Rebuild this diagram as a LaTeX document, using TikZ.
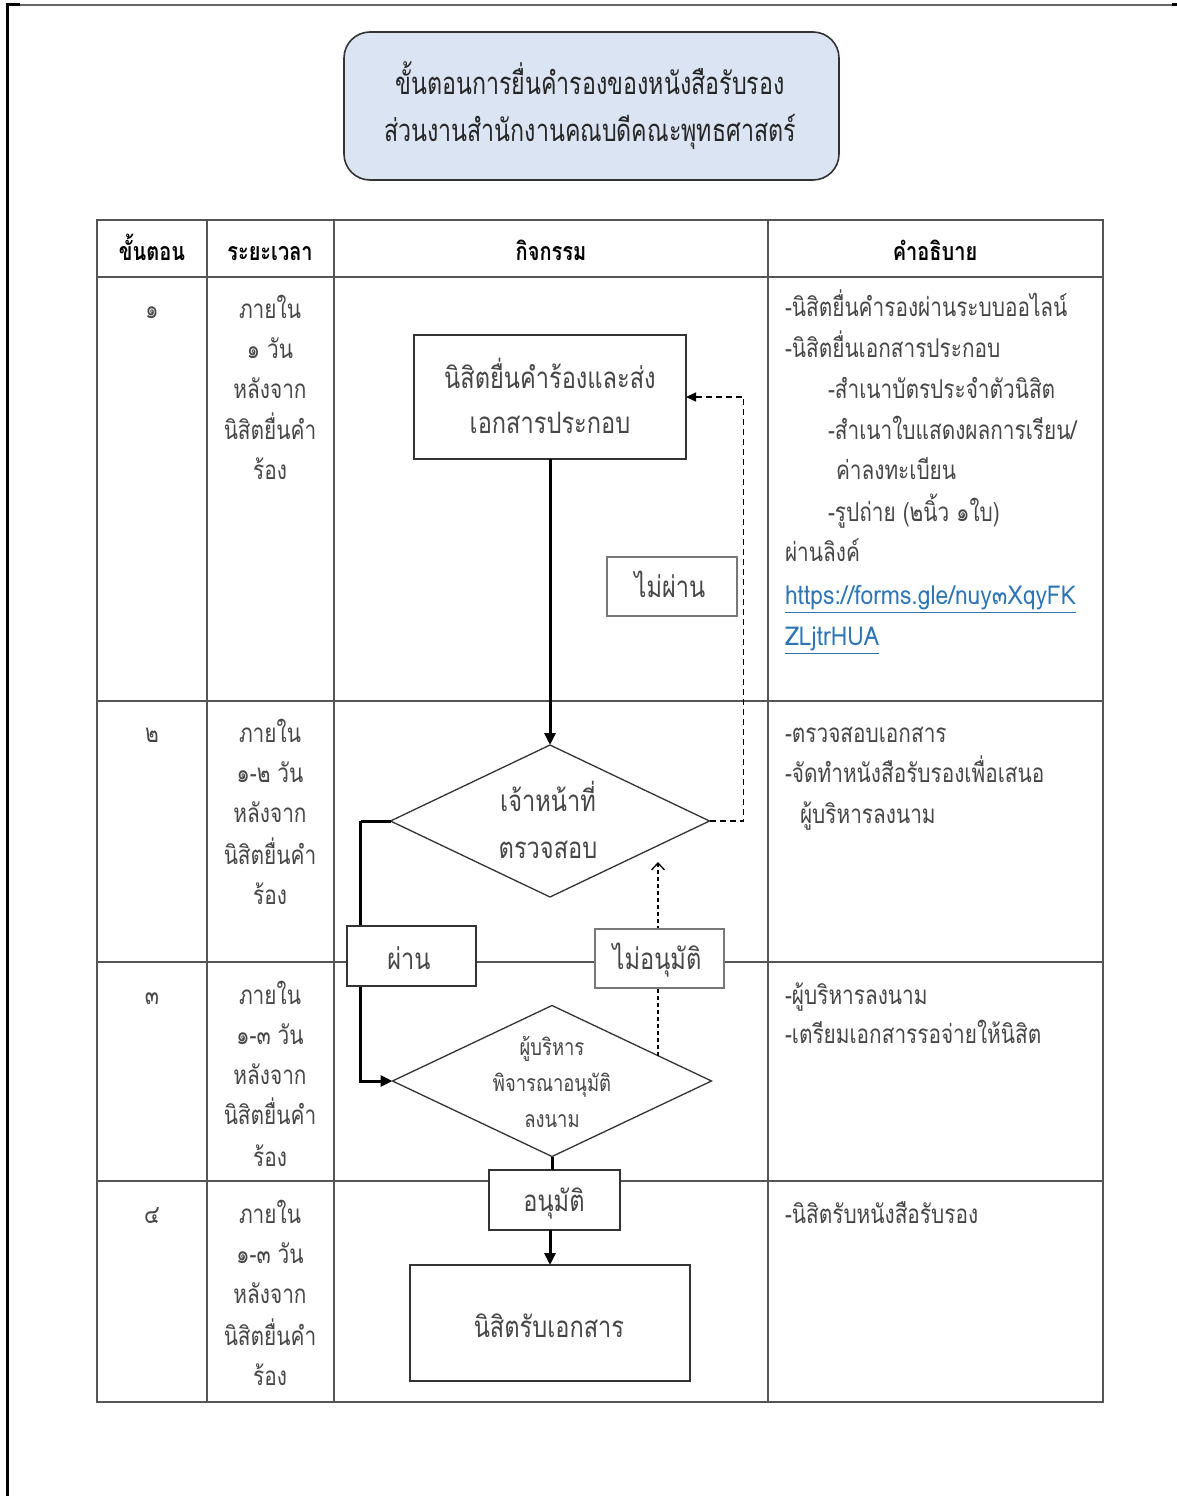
\documentclass[tikz,border=0pt]{standalone}
\usepackage{fontspec}
\newfontfamily\thai[Script=Thai,FakeStretch=0.8]{Loma}
\newfontfamily\thailink[Script=Thai,FakeStretch=0.88]{Loma}
\newfontfamily\thaititle[Script=Thai,FakeStretch=0.75]{Loma}
\usetikzlibrary{shapes.geometric,arrows.meta}
\definecolor{ttlfill}{RGB}{219,228,242}
\definecolor{gridc}{RGB}{85,85,85}
\definecolor{txtc}{RGB}{70,70,70}
\definecolor{lnkc}{RGB}{46,117,182}
\definecolor{lblc}{RGB}{120,120,120}
\begin{document}
\begin{tikzpicture}[x=1pt,y=-1pt,
  every node/.style={inner sep=0pt,outer sep=0pt},
  body/.style={font=\thai\fontsize{26}{30}\selectfont,text=txtc,text height=19.8pt,text depth=0pt},
  big/.style={font=\thai\fontsize{29.5}{34}\selectfont,text=txtc,text height=22.4pt,text depth=0pt},
  small/.style={font=\thai\fontsize{23}{27}\selectfont,text=txtc,text height=17.5pt,text depth=0pt},
  head/.style={font=\thai\bfseries\fontsize{25}{29}\selectfont,text=black,text height=19pt,text depth=0pt},
  ttl/.style={font=\thaititle\fontsize{31}{35}\selectfont,text=black!85,text height=23.6pt,text depth=0pt},
  desc/.style={body,anchor=west},
  procbox/.style={draw=black!80,line width=1.6pt,fill=white,rectangle},
  lblbox/.style={draw=lblc,line width=1.2pt,fill=white,rectangle},
  decbox/.style={draw=black!80,line width=1.3pt,diamond,fill=white},
  flow/.style={line width=3pt,black},
  flowarrow/.style={flow,-{Triangle[length=12pt,width=11pt]}},
  backarrow/.style={line width=1.3pt,black,dashed,dash pattern=on 6pt off 4pt,-{Triangle[length=10pt,width=9pt]}},
  uparrow/.style={line width=1.3pt,black,dash pattern=on 4pt off 3pt,-{Straight Barb[length=7pt,width=13pt]}},
  gridline/.style={draw=gridc,line width=1.8pt}
]
\useasboundingbox (0,0) rectangle (1177,1496);
% page edges
\draw[line width=1.4pt,black!60] (7,5) -- (1172,5);
\draw[line width=3pt,black] (7,5) -- (7,1496);
\draw[line width=3pt,black] (6,5) -- (20,5);
\draw[line width=3pt,black] (1172,5) -- (1177,5);

% title
\node[draw=black!80,line width=1.6pt,fill=ttlfill,rounded corners=26pt,
      minimum width=495pt,minimum height=148pt] (title) at (591.5,106) {};
\node[ttl] (title1) at (590,83) {ขั้นตอนการยื่นคำรองของหนังสือรับรอง};
\node[ttl] (title2) at (590,130) {ส่วนงานสำนักงานคณบดีคณะพุทธศาสตร์};

% table
\draw[gridline] (97,220) rectangle (1103,1402);
\foreach \xx in {207,334,768} \draw[gridline] (\xx,220) -- (\xx,1402);
\foreach \yy in {277,701,962,1181} \draw[gridline] (97,\yy) -- (1103,\yy);

% header
\node[head] (h1) at (152,251) {ขั้นตอน};
\node[head] (h2) at (270,251) {ระยะเวลา};
\node[head] (h3) at (551,251) {กิจกรรม};
\node[head] (h4) at (935,251) {คำอธิบาย};

% step numbers
\node[body] (n1) at (152,309) {๑};
\node[body] (n2) at (152,733) {๒};
\node[body] (n3) at (152,995) {๓};
\node[body] (n4) at (152,1214) {๔};

% time column
\node[body] (a1) at (270,309) {ภายใน};
\node[body] (a2) at (270,349) {๑ วัน};
\node[body] (a3) at (270,389) {หลังจาก};
\node[body] (a4) at (270,430) {นิสิตยื่นคำ};
\node[body] (a5) at (270,470) {ร้อง};

\node[body] (b1) at (270,733) {ภายใน};
\node[body] (b2) at (270,773) {๑-๒ วัน};
\node[body] (b3) at (270,813) {หลังจาก};
\node[body] (b4) at (270,855) {นิสิตยื่นคำ};
\node[body] (b5) at (270,895) {ร้อง};

\node[body] (c1) at (270,995) {ภายใน};
\node[body] (c2) at (270,1035) {๑-๓ วัน};
\node[body] (c3) at (270,1075) {หลังจาก};
\node[body] (c4) at (270,1115) {นิสิตยื่นคำ};
\node[body] (c5) at (270,1157) {ร้อง};

\node[body] (e1) at (270,1214) {ภายใน};
\node[body] (e2) at (270,1254) {๑-๓ วัน};
\node[body] (e3) at (270,1294) {หลังจาก};
\node[body] (e4) at (270,1336) {นิสิตยื่นคำ};
\node[body] (e5) at (270,1376) {ร้อง};

% description column
\node[desc] (d11) at (785,307) {-นิสิตยื่นคำรองผ่านระบบออไลน์};
\node[desc] (d12) at (785,348) {-นิสิตยื่นเอกสารประกอบ};
\node[desc] (d13) at (828,389) {-สำเนาบัตรประจำตัวนิสิต};
\node[desc] (d14) at (828,430) {-สำเนาใบแสดงผลการเรียน/};
\node[desc] (d15) at (836,470) {ค่าลงทะเบียน};
\node[desc] (d16) at (828,512) {-รูปถ่าย (๒นิ้ว ๑ใบ)};
\node[desc] (d17) at (785,552) {ผ่านลิงค์};
\node[desc,font=\thailink\fontsize{26}{30}\selectfont,text=lnkc] (d18) at (785,595) {\underline{https://forms.gle/nuy๓XqyFK}};
\node[desc,font=\thailink\fontsize{26}{30}\selectfont,text=lnkc] (d19) at (785,636) {\underline{ZLjtrHUA}};

\node[desc] (d21) at (785,733) {-ตรวจสอบเอกสาร};
\node[desc] (d22) at (785,773) {-จัดทำหนังสือรับรองเพื่อเสนอ};
\node[desc] (d23) at (800,814) {ผู้บริหารลงนาม};

\node[desc] (d31) at (785,995) {-ผู้บริหารลงนาม};
\node[desc] (d32) at (785,1034) {-เตรียมเอกสารรอจ่ายให้นิสิต};

\node[desc] (d41) at (785,1214) {-นิสิตรับหนังสือรับรอง};

% flow shapes
\node[procbox,minimum width=272pt,minimum height=124pt] (box1) at (550,397) {};
\node[big] (box1a) at (550,377) {นิสิตยื่นคำร้องและส่ง};
\node[big] (box1b) at (550,422) {เอกสารประกอบ};

\node[decbox,minimum width=319pt,minimum height=152pt] (dia1) at (550,821) {};
\node[big] (dia1a) at (548,800) {เจ้าหน้าที่};
\node[big] (dia1b) at (548,847) {ตรวจสอบ};

\node[decbox,minimum width=319pt,minimum height=151pt] (dia2) at (552,1081) {};
\node[small] (dia2a) at (552,1047) {ผู้บริหาร};
\node[small] (dia2b) at (552,1083) {พิจารณาอนุมัติ};
\node[small] (dia2c) at (552,1119) {ลงนาม};

\node[procbox,minimum width=280pt,minimum height=116pt] (box2) at (550,1323) {};
\node[big] (box2a) at (549,1326) {นิสิตรับเอกสาร};

% connectors
\draw[flowarrow] (box1.south) -- (dia1.north);
\draw[backarrow] (dia1.east) -- ++(34,0) |- (box1.east);
\node[lblbox,minimum width=130pt,minimum height=59pt] (nopass) at (672,586.5) {};
\node[big] (nopasst) at (670,586) {ไม่ผ่าน};

\draw[flow] (dia1.west) -- ++(-30,0) coordinate (pl);
\draw[flow,-{Triangle[length=12pt,width=11pt]}] (pl) |- (dia2.west);
\node[procbox,line width=1.4pt,minimum width=129pt,minimum height=60pt] (pass) at (411.5,956) {};
\node[big] (passt) at (409,958) {ผ่าน};

\coordinate (up1) at (658,1056);
\coordinate (up2) at (658,862);
\draw[uparrow] (up1) -- (up2);
\node[lblbox,minimum width=129pt,minimum height=59pt] (noapp) at (659.5,958.5) {};
\node[big] (noappt) at (657,958) {ไม่อนุมัติ};

\node[procbox,line width=1.4pt,minimum width=131pt,minimum height=60pt] (ok) at (554.5,1200) {};
\node[big] (okt) at (554,1200) {อนุมัติ};
\draw[flow] (dia2.south) -- (dia2.south |- ok.north);
\draw[flowarrow] (ok.south -| box2.north) -- (box2.north);
\end{tikzpicture}
\end{document}
